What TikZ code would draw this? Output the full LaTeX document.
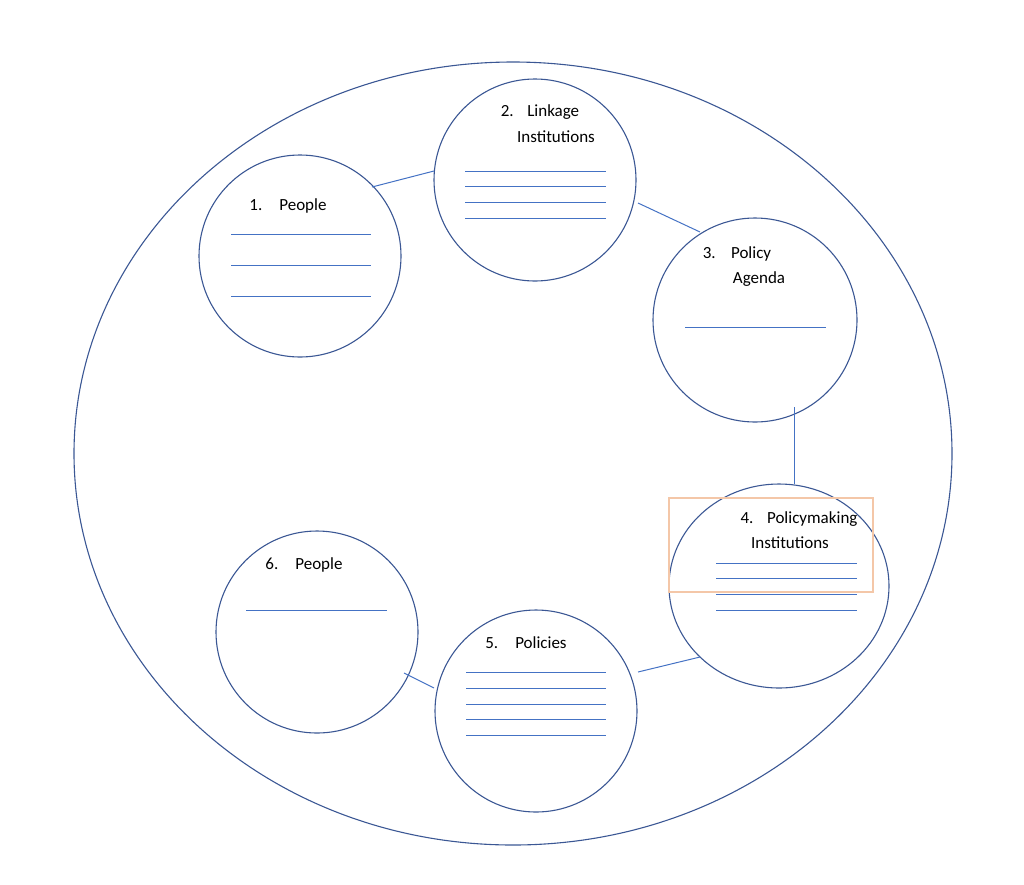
\documentclass[tikz,border=0pt]{standalone}
\usepackage{fontspec}
\setmainfont{Carlito}
\definecolor{cdark}{HTML}{3B5794}
\definecolor{cline}{HTML}{4472C4}
\definecolor{corange}{HTML}{F4C7A8}
\begin{document}
\begin{tikzpicture}[x=1pt,y=-1pt,
  circ/.style={draw=cdark,line width=1.1pt},
  rule/.style={draw=cline,line width=1pt},
  conn/.style={draw=cline,line width=1pt},
  lab/.style={font=\fontsize{17}{20}\selectfont,anchor=center,inner sep=0pt}]
\useasboundingbox (0,0) rectangle (1024,884);
\draw[circ] (513,453.5) ellipse [x radius=439, y radius=391.5];
\draw[circ] (300,256) circle [radius=101];
\draw[circ] (535,180) circle [radius=101];
\draw[circ] (755,320) circle [radius=102];
\draw[circ] (779,586) ellipse [x radius=110, y radius=102];
\draw[circ] (536,711) circle [radius=101];
\draw[circ] (317,632) circle [radius=101];
% connectors
\coordinate (a1) at (372,187); \coordinate (a2) at (434,171);
\coordinate (b1) at (638,203); \coordinate (b2) at (700,232);
\coordinate (c1) at (794,407); \coordinate (c2) at (794,484);
\coordinate (d1) at (638,672); \coordinate (d2) at (700,657);
\coordinate (e1) at (404,673); \coordinate (e2) at (434,688);
\draw[conn] (a1)--(a2); \draw[conn] (b1)--(b2); \draw[conn] (c1)--(c2);
\draw[conn] (d1)--(d2); \draw[conn] (e1)--(e2);
% texts
\node[lab] (t1) at (288,206) {1.\hspace{1em}People};
\node[lab] (t2) at (540,112) {2.\hspace{0.8em}Linkage};
\node[lab] (t2b) at (556,137) {Institutions};
\node[lab] (t3) at (737,254) {3.\hspace{0.9em}Policy};
\node[lab] (t3b) at (759,279) {Agenda};
\node[lab] (t4) at (799,519) {4.\hspace{0.8em}Policymaking};
\node[lab] (t4b) at (790,543) {Institutions};
\node[lab] (t5) at (526,643) {5.\hspace{1em}Policies};
\node[lab] (t6) at (304,565) {6.\hspace{1em}People};
% rules
\foreach \y in {234,265,296} \draw[rule] (231,\y)--(371,\y);
\foreach \y in {171,186,202,218} \draw[rule] (465,\y)--(606,\y);
\draw[rule] (685,327)--(826,327);
\foreach \y in {563,578,594,610} \draw[rule] (716,\y)--(857,\y);
\foreach \y in {672,688,704,719,735} \draw[rule] (466,\y)--(606,\y);
\draw[rule] (246,610)--(387,610);
\draw[draw=corange,line width=1.1pt] (669,498) rectangle (873,592);
\end{tikzpicture}
\end{document}
